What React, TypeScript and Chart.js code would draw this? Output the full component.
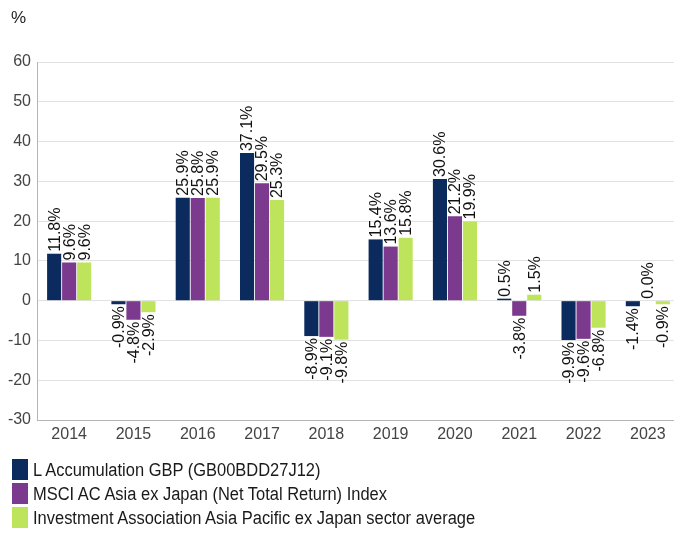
import React, { useEffect, useRef } from "react";
import { Chart, registerables } from "chart.js";

Chart.register(...registerables);

const categories = ["2014", "2015", "2016", "2017", "2018", "2019", "2020", "2021", "2022", "2023"];
const fundValues = [11.8, -0.9, 25.9, 37.1, -8.9, 15.4, 30.6, 0.5, -9.9, -1.4];
const indexValues = [9.6, -4.8, 25.8, 29.5, -9.1, 13.6, 21.2, -3.8, -9.6, 0.0];
const sectorValues = [9.6, -2.9, 25.9, 25.3, -9.8, 15.8, 19.9, 1.5, -6.8, -0.9];
const seriesNames = [
  "L Accumulation GBP (GB00BDD27J12)",
  "MSCI AC Asia ex Japan (Net Total Return) Index",
  "Investment Association Asia Pacific ex Japan sector average",
];
const seriesColors = ["#0b2a5e", "#7b3a8d", "#bde45a"];
const yMin = -30;
const yMax = 60;
const yStep = 10;
const unitLabel = "%";

const FONT = "'Liberation Sans', Arial, Helvetica, sans-serif";

const barLabelPlugin = {
  id: "barLabels",
  afterDatasetsDraw(chart: any) {
    const ctx = chart.ctx;
    ctx.save();
    ctx.font = `16px ${FONT}`;
    ctx.fillStyle = "#111111";
    ctx.textBaseline = "middle";
    chart.data.datasets.forEach((ds: any, i: number) => {
      const meta = chart.getDatasetMeta(i);
      meta.data.forEach((bar: any, j: number) => {
        const v = ds.data[j];
        const p = bar.getProps(["x", "y", "base"], true);
        const text = v.toFixed(1) + "%";
        ctx.save();
        if (v >= 0) {
          ctx.translate(p.x, Math.min(p.y, p.base) - 2);
          ctx.rotate(-Math.PI / 2);
          ctx.textAlign = "left";
        } else {
          ctx.translate(p.x, Math.max(p.y, p.base) + 2);
          ctx.rotate(-Math.PI / 2);
          ctx.textAlign = "right";
        }
        ctx.fillText(text, 0, 1);
        ctx.restore();
      });
    });
    ctx.restore();
  },
};

export default function App() {
  const ref = useRef<HTMLCanvasElement | null>(null);

  useEffect(() => {
    if (!ref.current) return;
    const chart = new Chart(ref.current, {
      type: "bar",
      data: {
        labels: categories,
        datasets: [fundValues, indexValues, sectorValues].map((vals, i) => ({
          label: seriesNames[i],
          data: vals,
          backgroundColor: seriesColors[i],
          borderWidth: 0,
          categoryPercentage: 0.7,
          barPercentage: 0.94,
        })),
      },
      options: {
        responsive: false,
        animation: false,
        devicePixelRatio: 1,
        layout: { padding: { top: 62, right: 4, bottom: 83, left: 0 } },
        plugins: {
          legend: { display: false },
          tooltip: { enabled: false },
          title: { display: false },
        },
        scales: {
          x: {
            grid: { display: false, drawTicks: false },
            border: { display: true, color: "#b5b5b5", width: 1 },
            ticks: {
              color: "#444444",
              font: { family: FONT, size: 16 },
              padding: 5,
              maxRotation: 0,
            },
            afterFit(scale: any) {
              scale.height = 30;
            },
          },
          y: {
            min: yMin,
            max: yMax,
            grid: { color: "#e2e2e2", drawTicks: false, lineWidth: 1 },
            border: { display: true, color: "#b5b5b5", width: 1 },
            ticks: {
              stepSize: yStep,
              color: "#444444",
              font: { family: FONT, size: 16 },
              padding: 6,
            },
            afterFit(scale: any) {
              scale.width = 37;
            },
          },
        },
      },
      plugins: [barLabelPlugin],
    });
    return () => chart.destroy();
  }, []);

  return (
    <div
      style={{
        position: "fixed",
        left: 0,
        top: 0,
        width: 674,
        height: 533,
        overflow: "hidden",
        background: "#ffffff",
        fontFamily: FONT,
      }}
    >
      <canvas
        ref={ref}
        width={684}
        height={533}
        style={{ position: "absolute", left: 0, top: 0, display: "block" }}
      />
      <div
        style={{
          position: "absolute",
          left: 11,
          top: 9,
          fontSize: 17,
          lineHeight: "17px",
          color: "#222222",
        }}
      >
        {unitLabel}
      </div>
      {seriesNames.map((name, i) => (
        <div
          key={name}
          style={{
            position: "absolute",
            left: 12,
            top: 459 + i * 24,
            height: 21,
            display: "flex",
            alignItems: "center",
            whiteSpace: "nowrap",
          }}
        >
          <span
            style={{
              display: "inline-block",
              width: 16,
              height: 21,
              background: seriesColors[i],
            }}
          />
          <span
            style={{
              display: "inline-block",
              marginLeft: 5,
              fontSize: 18,
              lineHeight: "21px",
              color: "#1a1a1a",
              position: "relative",
              top: 1,
              transform: "scaleX(0.915)",
              transformOrigin: "left center",
            }}
          >
            {name}
          </span>
        </div>
      ))}
    </div>
  );
}
